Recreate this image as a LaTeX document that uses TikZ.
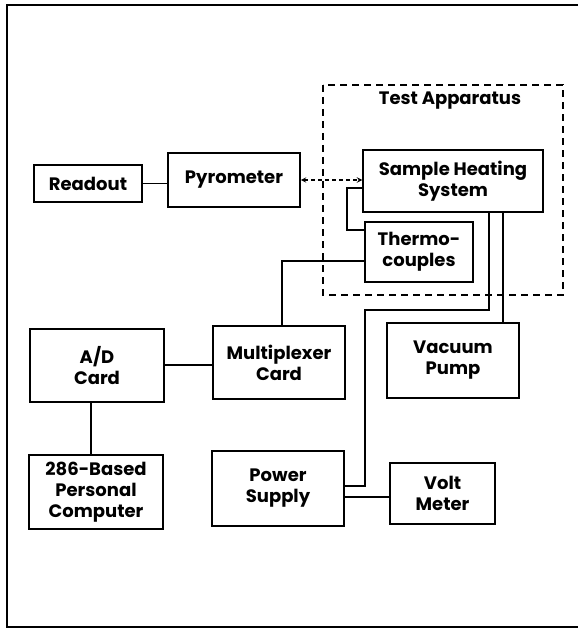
\documentclass[tikz,border=0pt]{standalone}
\usepackage{fontspec}
\setmainfont{Poppins}
\usepackage{tikz}

\begin{document}
\begin{tikzpicture}[x=1pt,y=-1pt,>=stealth,
  unit/.style={draw,line width=1.5pt,align=center,inner sep=0pt,
    font=\bfseries\fontsize{18}{21}\selectfont},
  wire/.style={line width=1.4pt}]
  \useasboundingbox (0,0) rectangle (580,628);
  \draw[line width=1.2pt] (578,5) -- (7,5) -- (7,627) -- (578,627);

  % test apparatus
  \draw[line width=2pt,dash pattern=on 7pt off 5pt] (323,85) rectangle (563,295);
  \node[font=\bfseries\fontsize{18}{21}\selectfont] (title) at (450,101) {Test Apparatus};

  \node[unit,minimum width=108pt,minimum height=37pt] (readout) at (88,183.5) {Readout};
  \node[unit,minimum width=132pt,minimum height=54pt] (pyro) at (234,180) {Pyrometer};
  \node[unit,minimum width=180pt,minimum height=62pt] (heater) at (453,181) {Sample Heating\\System};
  \node[unit,minimum width=108pt,minimum height=60pt] (thermo) at (419,252) {Thermo-\\couples};
  \node[unit,minimum width=134pt,minimum height=73pt] (adcard) at (97,365.5) {A/D\\Card};
  \node[unit,minimum width=132pt,minimum height=73pt] (mux) at (279,362.5) {Multiplexer\\Card};
  \node[unit,minimum width=132pt,minimum height=75pt] (pump) at (453,360.5) {Vacuum\\Pump};
  \node[unit,minimum width=134pt,minimum height=74pt] (pc) at (96,492) {286-Based\\Personal\\Computer};
  \node[unit,minimum width=132pt,minimum height=75pt] (supply) at (278,488.5) {Power\\Supply};
  \node[unit,minimum width=105pt,minimum height=61pt] (volt) at (442.5,493.5) {Volt\\Meter};

  \coordinate (fb) at (347,188);
  \coordinate (tc) at (282,261);
  \coordinate (hv) at (489,310);
  \coordinate (hs) at (365,486);

  \draw[wire] (readout.east) -- (readout.east -| pyro.west);
  \draw[wire,<->,dash pattern=on 4pt off 3pt] (pyro.east) -- (pyro.east -| heater.west);
  \draw[wire] (thermo.west |- 0,230) -| (fb) -- (fb -| heater.west);
  \draw[wire] (thermo.west |- tc) -- (tc) -- (tc |- mux.north);
  \draw[wire] (adcard.east |- 0,365) -- (mux.west |- 0,365);
  \draw[wire] (adcard.south -| 91,0) -- (pc.north -| 91,0);
  \draw[wire] (heater.south -| hv) -- (hv) -| (hs) -- (hs -| supply.east);
  \draw[wire] (heater.south -| 503,0) -- (pump.north -| 503,0);
  \draw[wire] (supply.east |- 0,497) -- (volt.west |- 0,497);
\end{tikzpicture}
\end{document}
